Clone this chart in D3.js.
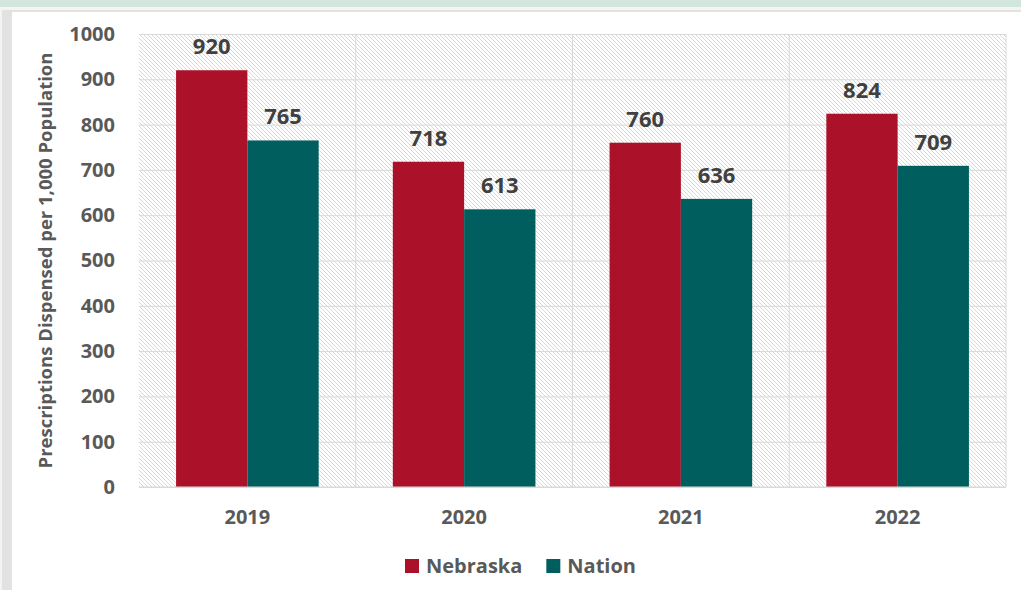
<!DOCTYPE html>
<html lang="en">
<head>
<meta charset="UTF-8">
<script src="https://d3js.org/d3.v7.min.js"></script>
<style>
  body { margin: 0; background: #fff; }
  svg { display: block; font-family: "Open Sans", sans-serif; font-weight: 700; }
</style>
</head>
<body>
<svg class="chart"></svg>
<script>

const years = ["2019", "2020", "2021", "2022"]
const seriesNames = ["Nebraska", "Nation"]
const nebraska = [920, 718, 760, 824]
const nation = [765, 613, 636, 709]
const yTicks = [0, 100, 200, 300, 400, 500, 600, 700, 800, 900, 1000]

const colors = {Nebraska: "#ab1129", Nation: "#005e5e"}

const W = 1021, H = 590
const margin = {top: 34, right: 15, bottom: 103, left: 139}
const width = W - margin.left - margin.right,
      height = H - margin.top - margin.bottom

const data = years.map((y, i) => ({year: y, Nebraska: nebraska[i], Nation: nation[i]}))

let svg = d3.select(".chart")
    .attr("width", W)
    .attr("height", H)

// slide-ish frame around the chart
svg.append("rect").attr("width", W).attr("height", H).attr("fill", "#d3e6de")
svg.append("rect").attr("x", 0).attr("y", 7).attr("width", W).attr("height", H).attr("fill", "#f4f4f4")
svg.append("rect").attr("x", 2).attr("y", 10).attr("width", W).attr("height", H).attr("fill", "#e2e2e2")
svg.append("rect").attr("x", 12).attr("y", 12).attr("width", W).attr("height", H).attr("fill", "#fff")

// hatch pattern for plot background
let defs = svg.append("defs")
defs.append("pattern")
    .attr("id", "hatch")
    .attr("patternUnits", "userSpaceOnUse")
    .attr("width", 4).attr("height", 4)
  .append("path")
    .attr("d", "M-1,-1 L5,5 M3,-1 L5,1 M-1,3 L1,5")
    .attr("stroke", "#d4d4d4")
    .attr("stroke-width", 0.9)

let g = svg.append("g")
    .attr("transform", `translate(${margin.left},${margin.top})`)

let x0 = d3.scaleBand()
    .domain(years)
    .range([0, width])
    .padding(0)

let x1 = d3.scaleBand()
    .domain(seriesNames)
    .range([0, x0.bandwidth()])
    .paddingInner(0)
    .paddingOuter(0.52)

let y = d3.scaleLinear()
    .domain([0, 1000])
    .range([height, 0])

g.append("rect")
    .attr("width", width)
    .attr("height", height)
    .attr("fill", "url(#hatch)")

// horizontal gridlines
g.append("g")
    .attr("class", "grid")
    .call(d3.axisLeft(y).tickValues(yTicks).tickSize(-width).tickFormat(""))
    .call(s => s.select(".domain").remove())
    .call(s => s.selectAll("line").attr("stroke", "#d9d9d9").attr("stroke-width", 1))

// vertical gridlines at category edges
g.append("g")
  .selectAll("line")
  .data(years.slice(1).concat(["end"]))
  .enter().append("line")
    .attr("x1", d => d === "end" ? width : x0(d))
    .attr("x2", d => d === "end" ? width : x0(d))
    .attr("y1", 0).attr("y2", height)
    .attr("stroke", "#d9d9d9")

// bars
let groups = g.selectAll(".year")
  .data(data)
  .enter().append("g")
    .attr("class", "year")
    .attr("transform", d => `translate(${x0(d.year)},0)`)

groups.selectAll("rect")
  .data(d => seriesNames.map(k => ({key: k, value: d[k]})))
  .enter().append("rect")
    .attr("x", d => x1(d.key))
    .attr("y", d => y(d.value))
    .attr("width", x1.bandwidth())
    .attr("height", d => height - y(d.value))
    .attr("fill", d => colors[d.key])

// bar labels
groups.selectAll("text")
  .data(d => seriesNames.map(k => ({key: k, value: d[k]})))
  .enter().append("text")
    .attr("x", d => x1(d.key) + x1.bandwidth() / 2)
    .attr("y", d => y(d.value) - 16)
    .attr("text-anchor", "middle")
    .attr("fill", "#404040")
    .style("font-size", "22px")
    .text(d => d.value)

// x axis baseline
g.append("line")
    .attr("x1", 0).attr("x2", width)
    .attr("y1", height).attr("y2", height)
    .attr("stroke", "#d9d9d9")

// y axis labels
let yAxis = g.append("g")
    .call(d3.axisLeft(y).tickValues(yTicks).tickSize(0).tickPadding(24).tickFormat(d3.format("d")))
yAxis.select(".domain").remove()
yAxis.selectAll("text")
    .attr("fill", "#595959")
    .style("font-family", "'Open Sans', sans-serif")
    .style("font-weight", 700)
    .style("font-size", "20px")

// x axis labels
let xAxis = g.append("g")
    .attr("transform", `translate(0,${height})`)
    .call(d3.axisBottom(x0).tickSize(0).tickPadding(23))
xAxis.select(".domain").remove()
xAxis.selectAll("text")
    .attr("fill", "#595959")
    .style("font-family", "'Open Sans', sans-serif")
    .style("font-weight", 700)
    .style("font-size", "20px")

// y title
svg.append("text")
    .attr("transform", `translate(52,${margin.top + height / 2}) rotate(-90)`)
    .attr("text-anchor", "middle")
    .attr("fill", "#595959")
    .style("font-size", "18.5px")
    .text("Prescriptions Dispensed per 1,000 Population")

// legend
let legend = svg.append("g")
    .attr("transform", "translate(405,559)")
let lx = 0
seriesNames.forEach(name => {
  let item = legend.append("g").attr("transform", `translate(${lx},0)`)
  item.append("rect")
      .attr("width", 14).attr("height", 14)
      .attr("fill", colors[name])
  let t = item.append("text")
      .attr("x", 21).attr("y", 14)
      .attr("fill", "#595959")
      .style("font-size", "20px")
      .text(name)
  lx += 21 + t.node().getComputedTextLength() + 24
})

</script>
</body>
</html>
